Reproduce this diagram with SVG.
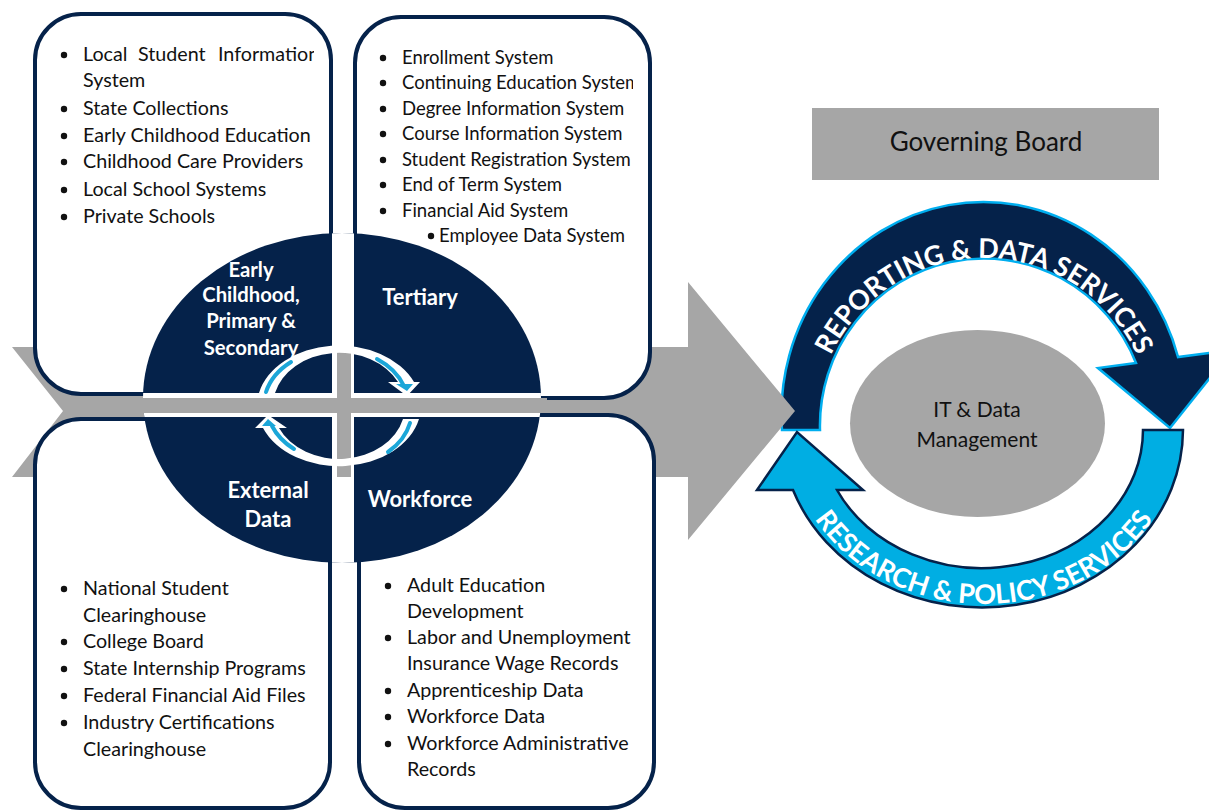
<svg xmlns="http://www.w3.org/2000/svg" width="1209" height="811" viewBox="0 0 1209 811">
<style>
.box{fill:#fff;stroke:#05224A;stroke-width:4}
.li{font-family:Lato,"Open Sans",sans-serif;font-size:19.7px;fill:#111}
.li2{font-family:Lato,"Open Sans",sans-serif;font-size:18.5px;fill:#111}
.bul{fill:#111}
.lbl{font-family:Lato,"Open Sans",sans-serif;font-weight:bold;font-size:20.3px;fill:#fff;text-anchor:middle}
.lbl2{font-family:Lato,"Open Sans",sans-serif;font-weight:bold;font-size:22px;fill:#fff;text-anchor:middle}
.arc{font-family:Lato,"Open Sans",sans-serif;font-weight:bold;font-size:27px;fill:#fff;text-anchor:middle}
.mid{font-family:Lato,"Open Sans",sans-serif;font-size:21px;fill:#111;text-anchor:middle}
.ring{fill:#fff}
.stripe{fill:none;stroke:#1BA6D8;stroke-width:4;stroke-linecap:round}
</style>
<defs>
<clipPath id="c1"><rect x="37" y="16" width="277" height="60"/></clipPath>
<clipPath id="c2"><rect x="357" y="70" width="276" height="30"/></clipPath>
<clipPath id="ce"><ellipse cx="342" cy="398" rx="199" ry="165"/></clipPath>
<path id="tp1" d="M 814,430 A 170 172 0 0 1 1154,430"/>
<path id="tp2" d="M 787,430 A 197 174 0 0 0 1181,430"/>
</defs>
<rect width="1209" height="811" fill="#fff"/>

<g id="connectors">
  <g id="cycle-reporting">
    <path d="M 782,430 A 202 212 0 0 1 1178,357 L 1232,350 L 1170,428 L 1098,368 L 1136,363 A 164 167 0 0 0 820,430 Z" fill="#05224A" stroke="#00AEEF" stroke-width="2.5"/>
    <text class="arc"><textPath href="#tp1" startOffset="50%">REPORTING &amp; DATA SERVICES</textPath></text>
  </g>
  <g id="cycle-research">
    <path d="M 1183,430 A 201 178 0 0 1 793,490 L 757,490 L 797,432 L 863,490 L 837,490 A 161 138 0 0 0 1143,430 Z" fill="#00AEE3" stroke="#05224A" stroke-width="2.5"/>
    <text class="arc"><textPath href="#tp2" startOffset="50%">RESEARCH &amp; POLICY SERVICES</textPath></text>
  </g>
  <polygon id="main-arrow" points="12,347 688,347 688,282 795,411 688,540 688,477 12,477 63,411" fill="#A6A6A6"/>
</g>

<g id="box-early">
  <rect class="box" x="35" y="14" width="296" height="380" rx="46"/>
  <g clip-path="url(#c1)"><text class="li" y="61"><tspan x="83">Local</tspan><tspan x="138">Student</tspan><tspan x="218">Information</tspan></text></g>
  <text class="li" x="83" y="87">System</text>
  <text class="li" x="83" y="115">State Collections</text>
  <text class="li" x="83" y="142">Early Childhood Education</text>
  <text class="li" x="83" y="168">Childhood Care Providers</text>
  <text class="li" x="83" y="196">Local School Systems</text>
  <text class="li" x="83" y="223">Private Schools</text>
  <g class="bul"><circle cx="64" cy="55" r="3.2"/><circle cx="64" cy="109" r="3.2"/><circle cx="64" cy="136" r="3.2"/><circle cx="64" cy="162" r="3.2"/><circle cx="64" cy="190" r="3.2"/><circle cx="64" cy="217" r="3.2"/></g>
</g>

<g id="box-tertiary">
  <rect class="box" x="355" y="17" width="295" height="381" rx="46"/>
  <text class="li2" x="402" y="64">Enrollment System</text>
  <g clip-path="url(#c2)"><text class="li2" x="402" y="89">Continuing Education System</text></g>
  <text class="li2" x="402" y="115">Degree Information System</text>
  <text class="li2" x="402" y="140">Course Information System</text>
  <text class="li2" x="402" y="166">Student Registration System</text>
  <text class="li2" x="402" y="191">End of Term System</text>
  <text class="li2" x="402" y="217">Financial Aid System</text>
  <text class="li2" x="439" y="242">Employee Data System</text>
  <g class="bul"><circle cx="383" cy="58" r="3.2"/><circle cx="383" cy="83" r="3.2"/><circle cx="383" cy="109" r="3.2"/><circle cx="383" cy="134" r="3.2"/><circle cx="383" cy="160" r="3.2"/><circle cx="383" cy="185" r="3.2"/><circle cx="383" cy="211" r="3.2"/><circle cx="431" cy="236" r="3.2"/></g>
</g>

<g id="box-external">
  <rect class="box" x="35" y="419" width="295" height="389" rx="46"/>
  <text class="li" x="83" y="595">National Student</text>
  <text class="li" x="83" y="622">Clearinghouse</text>
  <text class="li" x="83" y="648">College Board</text>
  <text class="li" x="83" y="675">State Internship Programs</text>
  <text class="li" x="83" y="702">Federal Financial Aid Files</text>
  <text class="li" x="83" y="729">Industry Certifications</text>
  <text class="li" x="83" y="756">Clearinghouse</text>
  <g class="bul"><circle cx="64" cy="589" r="3.2"/><circle cx="64" cy="642" r="3.2"/><circle cx="64" cy="669" r="3.2"/><circle cx="64" cy="696" r="3.2"/><circle cx="64" cy="723" r="3.2"/></g>
</g>

<g id="box-workforce">
  <rect class="box" x="359" y="415" width="295" height="393" rx="46"/>
  <text class="li" x="407" y="592">Adult Education</text>
  <text class="li" x="407" y="618">Development</text>
  <text class="li" x="407" y="644">Labor and Unemployment</text>
  <text class="li" x="407" y="670">Insurance Wage Records</text>
  <text class="li" x="407" y="697">Apprenticeship Data</text>
  <text class="li" x="407" y="723">Workforce Data</text>
  <text class="li" x="407" y="750">Workforce Administrative</text>
  <text class="li" x="407" y="776">Records</text>
  <g class="bul"><circle cx="388" cy="586" r="3.2"/><circle cx="388" cy="638" r="3.2"/><circle cx="388" cy="691" r="3.2"/><circle cx="388" cy="717" r="3.2"/><circle cx="388" cy="744" r="3.2"/></g>
</g>

<g id="hub">
  <ellipse cx="342" cy="398" rx="199" ry="165" fill="#05224A"/>
  <g clip-path="url(#ce)" fill="#fff">
    <rect x="130" y="393" width="430" height="24"/>
    <rect x="332" y="225" width="22" height="345"/>
  </g>
  <rect x="137" y="398" width="410" height="15" fill="#A6A6A6"/>
  <rect x="337" y="347" width="14" height="130" fill="#A6A6A6"/>
  <text class="lbl" x="251" y="277">Early</text>
  <text class="lbl" x="251" y="302">Childhood,</text>
  <text class="lbl" x="251" y="328">Primary &amp;</text>
  <text class="lbl" x="251" y="355">Secondary</text>
  <text class="lbl2" x="420" y="305">Tertiary</text>
  <text class="lbl2" x="268" y="498">External</text>
  <text class="lbl2" x="268" y="527">Data</text>
  <text class="lbl2" x="420" y="507">Workforce</text>
  <g id="hub-cycle">
    <path class="ring" d="M 259,393 A 82 61 0 0 1 414,382 L 420,382 L 407,396 L 388,382 L 398,382 A 66 53 0 0 0 275,393 Z"/>
    <path class="stripe" d="M 266,392 A 73 56 0 0 1 291,362"/>
    <path class="stripe" d="M 377,359 A 73 56 0 0 1 404,386"/>
    <polygon points="396,384 413,384 407,391" fill="#1BA6D8"/>
    <path class="ring" d="M 419,419 A 82 61 0 0 1 263,428 L 255,428 L 268,415 L 287,428 L 279,428 A 66 53 0 0 0 403,419 Z"/>
    <path class="stripe" d="M 410,423 A 73 56 0 0 1 388,452"/>
    <path class="stripe" d="M 294,449 A 73 56 0 0 1 272,426"/>
    <polygon points="262,426 276,426 268,419" fill="#1BA6D8"/>
  </g>
</g>

<g id="governing-board">
  <rect x="812" y="108" width="347" height="72" fill="#A6A6A6"/>
  <text class="mid" x="986" y="151" style="font-size:26px">Governing Board</text>
</g>

<g id="it-data">
  <ellipse cx="977.5" cy="423.5" rx="127.5" ry="93.5" fill="#A6A6A6"/>
  <text class="mid" x="977" y="417">IT &amp; Data</text>
  <text class="mid" x="977" y="447">Management</text>
</g>
</svg>
